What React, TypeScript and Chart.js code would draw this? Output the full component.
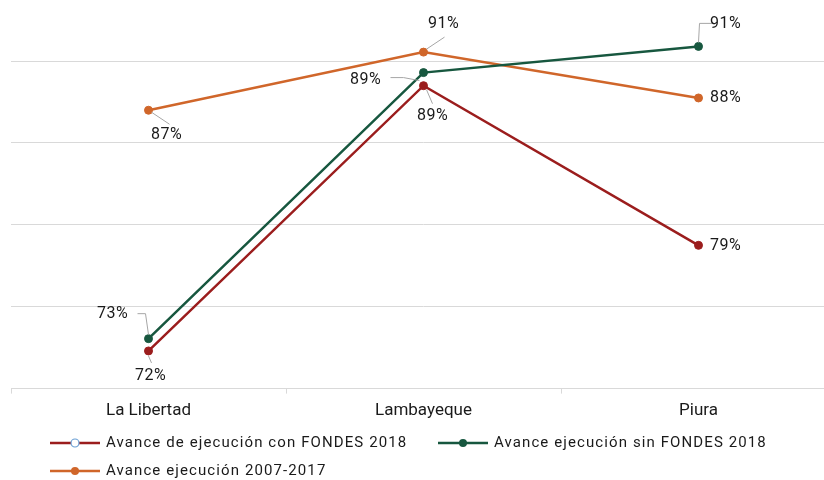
import React, { useEffect, useRef } from "react";
import { Chart, registerables } from "chart.js";

Chart.register(...registerables);

const categories = ["La Libertad", "Lambayeque", "Piura"];
const seriesNames = [
  "Avance de ejecución con FONDES 2018",
  "Avance ejecución sin FONDES 2018",
  "Avance ejecución 2007-2017",
];
const conFondes = [72.3, 88.5, 78.75];
const sinFondes = [73.05, 89.3, 90.9];
const historico = [87.0, 90.55, 87.75];

const colors = ["#9b1d1d", "#17573f", "#d0662a"];

// label text-centre offsets relative to the point
const labelOffsets = [
  [[2, 25], [9, 30], [27, 1]],
  [[-36, -25], [-58, 7], [27, -22]],
  [[18, 25], [20, -28], [27, 0]],
];
// leader polylines relative to the point
const leaders: number[][][][] = [
  [[[0, 5], [3, 12]], [[3, 4], [9, 18]], []],
  [[[0, -4], [-3, -25], [-11, -25]], [[-4, 8], [-20, 5], [-33, 5]], [[0, -4], [1, -23], [14, -23]]],
  [[[3, 2], [21, 14]], [[3, -3], [21, -15]], []],
];

const FONT = "Roboto, 'DejaVu Sans', sans-serif";

const labelPlugin = {
  id: "labelsAndLegend",
  afterDraw(chart: any) {
    const ctx = chart.ctx;
    ctx.save();
    chart.data.datasets.forEach((ds: any, di: number) => {
      const meta = chart.getDatasetMeta(di);
      meta.data.forEach((pt: any, i: number) => {
        const lead = leaders[di][i];
        if (lead.length) {
          ctx.strokeStyle = "#a6a6a6";
          ctx.lineWidth = 1;
          ctx.beginPath();
          lead.forEach((p, k) => {
            const x = pt.x + p[0];
            const y = pt.y + p[1];
            if (k === 0) ctx.moveTo(x, y);
            else ctx.lineTo(x, y);
          });
          ctx.stroke();
        }
        const off = labelOffsets[di][i];
        ctx.fillStyle = "#1a1a1a";
        ctx.font = `16px ${FONT}`;
        (ctx as any).letterSpacing = "0.5px";
        ctx.textAlign = "center";
        ctx.textBaseline = "middle";
        ctx.fillText(Math.round(ds.data[i]) + "%", pt.x + off[0], pt.y + off[1]);
        (ctx as any).letterSpacing = "0px";
      });
    });

    // legend
    const items = [
      { x: 50, y: 443, di: 0, open: true },
      { x: 438, y: 443, di: 1, open: false },
      { x: 50, y: 471, di: 2, open: false },
    ];
    items.forEach((it) => {
      const c = colors[it.di];
      ctx.strokeStyle = c;
      ctx.lineWidth = 2.5;
      ctx.beginPath();
      ctx.moveTo(it.x, it.y);
      ctx.lineTo(it.x + 50, it.y);
      ctx.stroke();
      ctx.beginPath();
      ctx.arc(it.x + 25, it.y, 4, 0, Math.PI * 2);
      if (it.open) {
        ctx.fillStyle = "#ffffff";
        ctx.fill();
        ctx.strokeStyle = "#6a9fd4";
        ctx.lineWidth = 1.2;
        ctx.stroke();
      } else {
        ctx.fillStyle = c;
        ctx.fill();
      }
      ctx.fillStyle = "#1a1a1a";
      ctx.font = `15px ${FONT}`;
      (ctx as any).letterSpacing = "1.1px";
      ctx.textAlign = "left";
      ctx.textBaseline = "middle";
      ctx.fillText(seriesNames[it.di], it.x + 56, it.y);
      (ctx as any).letterSpacing = "0px";
    });
    ctx.restore();
  },
};

export default function App() {
  const ref = useRef<HTMLCanvasElement>(null);
  useEffect(() => {
    if (!ref.current) return;
    const series = [conFondes, sinFondes, historico];
    const chart = new Chart(ref.current, {
      type: "line",
      data: {
        labels: categories,
        datasets: series.map((d, i) => ({
          label: seriesNames[i],
          data: d,
          borderColor: colors[i],
          backgroundColor: colors[i],
          pointBackgroundColor: colors[i],
          pointBorderColor: colors[i],
          borderWidth: 2.5,
          pointRadius: 4,
          pointBorderWidth: 1,
          tension: 0,
          clip: false as any,
        })),
      },
      options: {
        responsive: false,
        animation: false,
        events: [],
        layout: { padding: { left: 11, right: 14, top: 12, bottom: 52 } },
        plugins: { legend: { display: false }, tooltip: { enabled: false } },
        scales: {
          x: {
            offset: true,
            grid: {
              offset: true,
              drawOnChartArea: false,
              drawTicks: true,
              tickLength: 5,
              color: "#d9d9d9",
            },
            border: { display: true, color: "#d9d9d9", width: 1 },
            ticks: {
              color: "#1a1a1a",
              font: { family: FONT, size: 17 },
              padding: 7,
              maxRotation: 0,
            },
          },
          y: {
            min: 70,
            max: 93,
            ticks: { display: false, stepSize: 5 },
            grid: {
              drawTicks: false,
              color: (c: any) =>
                c.tick && c.tick.value % 5 === 0 && c.tick.value > 70 ? "#d9d9d9" : "rgba(0,0,0,0)",
              lineWidth: 1,
            },
            border: { display: false },
          },
        },
      },
      plugins: [labelPlugin],
    });
    return () => chart.destroy();
  }, []);
  return (
    <div style={{ width: 824, height: 480, overflow: "hidden", position: "relative" }}>
      <style>{"html,body{margin:0;padding:0;overflow:hidden;}"}</style>
      <canvas ref={ref} width={850} height={480} style={{ display: "block", width: 850, height: 480 }} />
    </div>
  );
}
